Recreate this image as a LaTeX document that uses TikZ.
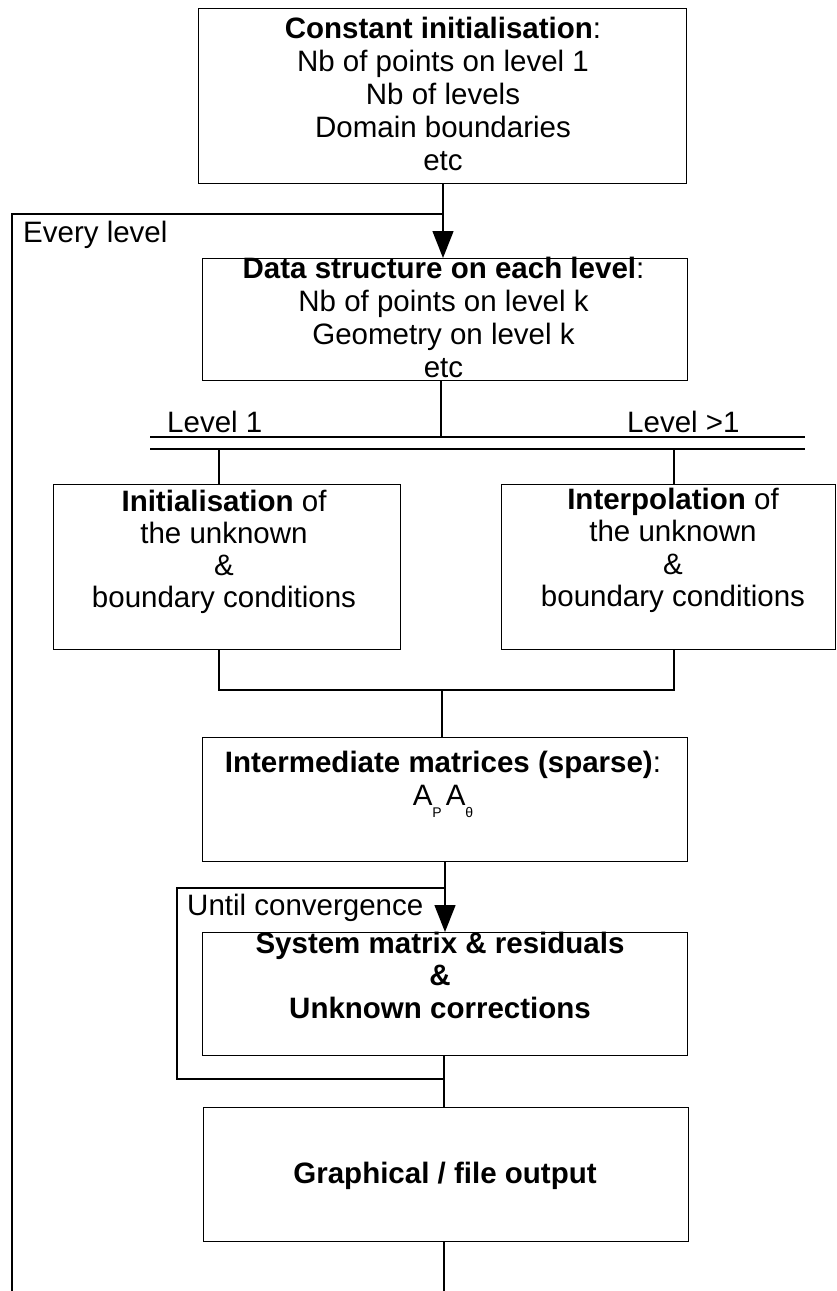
\documentclass[tikz,border=0pt]{standalone}
\usepackage{fontspec}
\setmainfont{Liberation Sans}
\usetikzlibrary{arrows.meta}
\begin{document}
\begin{tikzpicture}[x=1pt,y=-1pt,
  box/.style={draw, line width=1.4pt, rectangle, inner sep=0pt, anchor=north west},
  txt/.style={inner sep=0pt, align=center, anchor=north, font=\fontsize{29.5}{33}\selectfont},
  lbl/.style={inner sep=0pt, anchor=base west, font=\fontsize{29.5}{33}\selectfont},
  ln/.style={line width=1.4pt},
  arr/.style={line width=1.4pt, -{Triangle[width=21pt,length=27pt]}}]
\useasboundingbox (0,0) rectangle (837,1291);

% boxes
\node[box, minimum width=488pt, minimum height=175pt] (b1) at (198,8) {};
\node[box, minimum width=485pt, minimum height=122pt] (b2) at (202,258) {};
\node[box, minimum width=347pt, minimum height=165pt] (b3) at (53,484) {};
\node[box, minimum width=334pt, minimum height=165pt] (b4) at (501,484) {};
\node[box, minimum width=485pt, minimum height=124pt] (b5) at (202,737) {};
\node[box, minimum width=485pt, minimum height=123pt] (b6) at (202,932) {};
\node[box, minimum width=485pt, minimum height=134pt] (b7) at (203,1107) {};

% texts
\node[txt] (t1) at (443,16.5) {\textbf{Constant initialisation}:\\Nb of points on level 1\\Nb of levels\\Domain boundaries\\etc};
\node[txt] (t2) at (443.5,256.5) {\textbf{Data structure on each level}:\\Nb of points on level k\\Geometry on level k\\etc};
\node[txt, font=\fontsize{29.5}{32.3}\selectfont] (t3) at (224,489.5) {\textbf{Initialisation} of\\the unknown\\\&\\boundary conditions};
\node[txt, font=\fontsize{29.5}{32.3}\selectfont] (t4) at (673,488) {\textbf{Interpolation} of\\the unknown\\\&\\boundary conditions};
\node[txt] (t5) at (443,750.5) {\textbf{Intermediate matrices (sparse)}:\\A\raisebox{-12pt}{\fontsize{14}{14}\selectfont P}\hspace{4pt}A\raisebox{-12pt}{\fontsize{14}{14}\selectfont θ}};
\node[txt, font=\fontsize{29.5}{32.5}\selectfont\bfseries] (t6) at (440,931.5) {System matrix \& residuals\\\&\\Unknown corrections};
\node[lbl, anchor=base, font=\fontsize{29.5}{33}\selectfont\bfseries] (t7) at (445,1183) {Graphical / file output};

\node[lbl] (every) at (23,242) {Every level};
\node[lbl] (until) at (187,915) {Until convergence};
\node[lbl] (lev1) at (167,432) {Level 1};
\node[lbl] (levn) at (627,432) {Level >1};

% coordinates
\coordinate (loopTop) at (443,214);
\coordinate (loopEnd) at (12,1291);
\coordinate (splitTop) at (441,437);
\coordinate (dlA1) at (150,437);
\coordinate (dlA2) at (805,437);
\coordinate (dlB1) at (150,449);
\coordinate (dlB2) at (805,449);
\coordinate (joinL) at (219,690);
\coordinate (joinR) at (674,690);
\coordinate (joinM) at (442,690);
\coordinate (innerTop) at (445,888);
\coordinate (innerLeft) at (177,888);
\coordinate (innerBot) at (444,1079);
\coordinate (bottomEnd) at (444,1291);

% connectors
\draw[arr] (b1.south -| loopTop) -- (b2.north -| loopTop);
\draw[ln] (loopTop) -| (loopEnd);
\draw[ln] (b2.south -| splitTop) -- (splitTop);
\draw[ln] (dlA1) -- (dlA2);
\draw[ln] (dlB1) -- (dlB2);
\draw[ln] (dlB1 -| joinL) -- (b3.north -| joinL);
\draw[ln] (dlB1 -| joinR) -- (b4.north -| joinR);
\draw[ln] (b3.south -| joinL) -- (joinL) -- (joinR) -- (b4.south -| joinR);
\draw[ln] (joinM) -- (b5.north -| joinM);
\draw[arr] (b5.south -| innerTop) -- (b6.north -| innerTop);
\draw[ln] (b6.south -| innerBot) -- (innerBot) -| (innerLeft) -- (innerTop);
\draw[ln] (innerBot) -- (b7.north -| innerBot);
\draw[ln] (b7.south -| bottomEnd) -- (bottomEnd);
\end{tikzpicture}
\end{document}
